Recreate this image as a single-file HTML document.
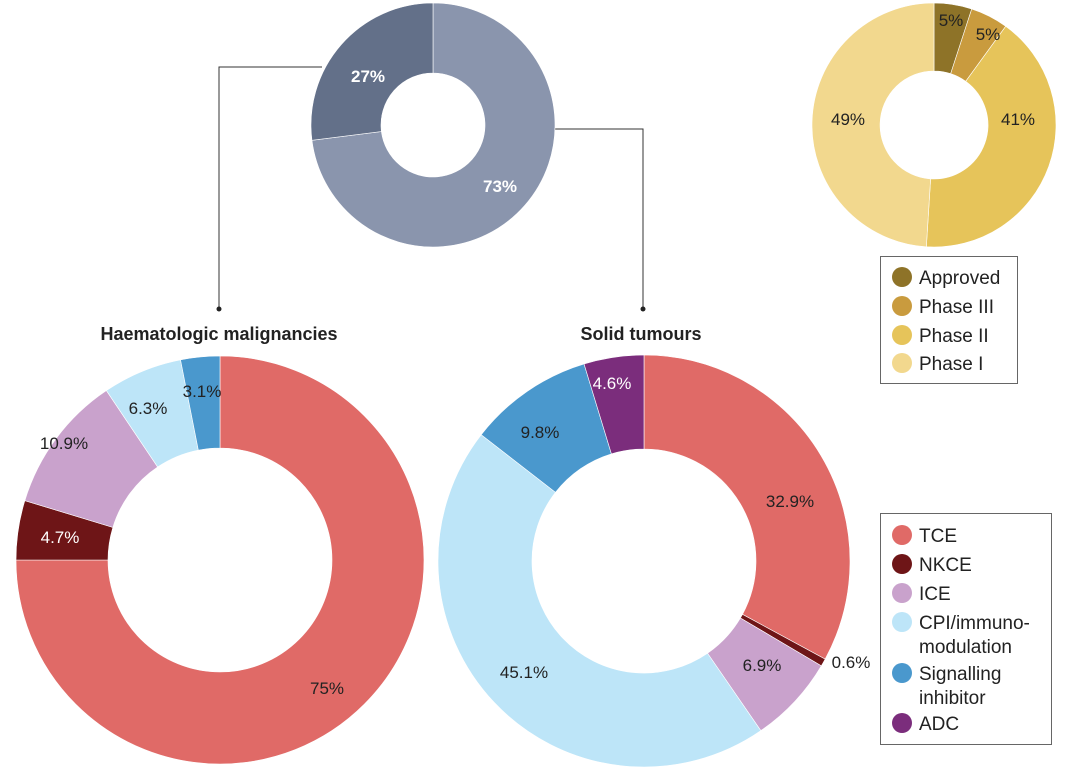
<!DOCTYPE html>
<html><head><meta charset="utf-8"><style>
body{margin:0;background:#fff;width:1076px;height:779px;overflow:hidden}
svg{display:block;font-family:"Liberation Sans",sans-serif}
</style></head><body>
<svg id="s" width="1076" height="779" viewBox="0 0 1076 779">
<g fill="none" stroke="#333" stroke-width="1">
<polyline points="322,67 219,67 219,308"/>
<polyline points="555,129 643,129 643,308"/>
</g>
<circle cx="219" cy="309" r="2.5" fill="#222"/>
<circle cx="643" cy="309" r="2.5" fill="#222"/>
<g id="d"></g>
<g font-size="17" fill="#222">
<text x="219" y="340" text-anchor="middle" font-weight="bold" font-size="18">Haematologic malignancies</text>
<text x="641" y="340" text-anchor="middle" font-weight="bold" font-size="18">Solid tumours</text>
<text x="368" y="82" text-anchor="middle" font-weight="bold" fill="#fff">27%</text>
<text x="500" y="192" text-anchor="middle" font-weight="bold" fill="#fff">73%</text>
<text x="951" y="26" text-anchor="middle">5%</text>
<text x="988" y="40" text-anchor="middle">5%</text>
<text x="1018" y="125" text-anchor="middle">41%</text>
<text x="848" y="125" text-anchor="middle">49%</text>
<text x="327" y="694" text-anchor="middle">75%</text>
<text x="60" y="543" text-anchor="middle" fill="#fff">4.7%</text>
<text x="64" y="449" text-anchor="middle">10.9%</text>
<text x="148" y="414" text-anchor="middle">6.3%</text>
<text x="202" y="397" text-anchor="middle">3.1%</text>
<text x="790" y="507" text-anchor="middle">32.9%</text>
<text x="851" y="668" text-anchor="middle">0.6%</text>
<text x="762" y="671" text-anchor="middle">6.9%</text>
<text x="524" y="678" text-anchor="middle">45.1%</text>
<text x="540" y="438" text-anchor="middle">9.8%</text>
<text x="612" y="389" text-anchor="middle" fill="#fff">4.6%</text>
</g>
<rect x="880.5" y="256.5" width="137" height="127" fill="none" stroke="#666"/>
<rect x="880.5" y="513.5" width="171" height="231" fill="none" stroke="#666"/>
<g font-size="19" fill="#222">
<circle cx="902" cy="277" r="10" fill="#8e7328"/><text x="919" y="284">Approved</text>
<circle cx="902" cy="306" r="10" fill="#c99b3e"/><text x="919" y="313">Phase III</text>
<circle cx="902" cy="335" r="10" fill="#e6c45a"/><text x="919" y="342">Phase II</text>
<circle cx="902" cy="363" r="10" fill="#f2d88e"/><text x="919" y="370">Phase I</text>
<circle cx="902" cy="535" r="10" fill="#e06a67"/><text x="919" y="542">TCE</text>
<circle cx="902" cy="564" r="10" fill="#6e1517"/><text x="919" y="571">NKCE</text>
<circle cx="902" cy="593" r="10" fill="#c9a2cc"/><text x="919" y="600">ICE</text>
<circle cx="902" cy="622" r="10" fill="#bde5f8"/><text x="919" y="629">CPI/immuno-</text><text x="919" y="653">modulation</text>
<circle cx="902" cy="673" r="10" fill="#4a98cd"/><text x="919" y="680">Signalling</text><text x="919" y="704">inhibitor</text>
<circle cx="902" cy="723" r="10" fill="#7b2d7c"/><text x="919" y="730">ADC</text>
</g>
</svg>
<script>
var g=document.getElementById('d');
function donut(cx,cy,R,r,start,data){
 var a=start;
 data.forEach(function(d){
  var a2=a+d[0]/100*2*Math.PI;
  var p=function(rad,t){return (cx+rad*Math.sin(t)).toFixed(2)+','+(cy-rad*Math.cos(t)).toFixed(2);};
  var lg=(a2-a)>Math.PI?1:0;
  var path='M'+p(R,a)+'A'+R+','+R+' 0 '+lg+' 1 '+p(R,a2)+'L'+p(r,a2)+'A'+r+','+r+' 0 '+lg+' 0 '+p(r,a)+'Z';
  var e=document.createElementNS('http://www.w3.org/2000/svg','path');
  e.setAttribute('d',path);e.setAttribute('fill',d[1]);
  e.setAttribute('stroke','#fff');e.setAttribute('stroke-width','0.6');
  g.appendChild(e);a=a2;
 });
}
donut(433,125,122,52,0,[[73,'#8a95ad'],[27,'#637089']]);
donut(934,125,122,54,0,[[5,'#8e7328'],[5,'#c99b3e'],[41,'#e6c45a'],[49,'#f2d88e']]);
donut(220,560,204,112,0,[[75,'#e06a67'],[4.7,'#6e1517'],[10.9,'#c9a2cc'],[6.3,'#bde5f8'],[3.1,'#4a98cd']]);
donut(644,561,206,112,0,[[32.9,'#e06a67'],[0.6,'#6e1517'],[6.9,'#c9a2cc'],[45.1,'#bde5f8'],[9.8,'#4a98cd'],[4.7,'#7b2d7c']]);
</script>
</body></html>
